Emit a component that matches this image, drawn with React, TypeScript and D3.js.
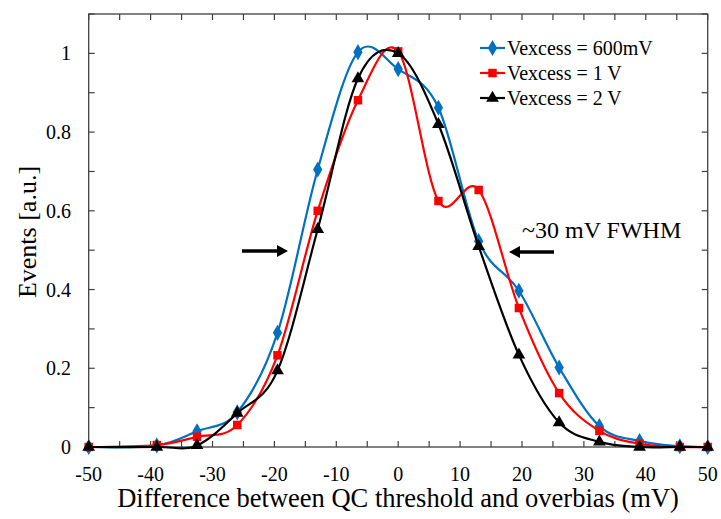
import React from "react";
import * as d3 from "d3";

const xValues = [-50, -39, -32.5, -26, -19.5, -13, -6.5, 0, 6.5, 13, 19.5, 26, 32.5, 39, 45.5, 50];
const blueValues = [0, 0.004, 0.04, 0.088, 0.29, 0.705, 1.003, 0.96, 0.862, 0.523, 0.397, 0.202, 0.053, 0.015, 0.002, 0];
const redValues = [0, 0.005, 0.026, 0.056, 0.233, 0.6, 0.881, 1.005, 0.625, 0.653, 0.353, 0.137, 0.041, 0.008, 0, 0];
const blackValues = [0, 0, 0.004, 0.086, 0.194, 0.553, 0.936, 1.0, 0.82, 0.51, 0.234, 0.062, 0.013, 0, 0, 0];

const seriesNames = ["Vexcess = 600mV", "Vexcess = 1 V", "Vexcess = 2 V"];
const xTickLabels = [-50, -40, -30, -20, -10, 0, 10, 20, 30, 40, 50];
const yTickLabels = [0, 0.2, 0.4, 0.6, 0.8, 1];

const W = 721;
const H = 519;
const FONT = "Liberation Serif, DejaVu Serif, serif";

export default function App() {
  const x = d3.scaleLinear().domain([-50, 50]).range([88.7, 707.7]);
  const y = d3.scaleLinear().domain([0, 1.1]).range([447, 14]);

  const series = [
    { name: seriesNames[0], values: blueValues, color: "#0070C0", marker: "diamond" },
    { name: seriesNames[1], values: redValues, color: "#FF0000", marker: "square" },
    { name: seriesNames[2], values: blackValues, color: "#000000", marker: "triangle" },
  ];

  const line = d3
    .line<number>()
    .x((_, i) => x(xValues[i]))
    .y((d) => y(d))
    .curve(d3.curveCardinal.tension(0));

  const markerPath = (type: string) => {
    if (type === "diamond") return d3.symbol(d3.symbolDiamond, 75)()!;
    if (type === "square") return d3.symbol(d3.symbolSquare, 72)()!;
    return d3.symbol(d3.symbolTriangle, 70)()!;
  };

  const minorX = d3.range(-50, 50.001, 5);
  const minorY = d3.range(0, 1.1001, 0.1);
  const x0 = x(-50), x1 = x(50), y0 = y(0), y1 = y(1.1);
  const tick = 6;
  const frameColor = "#404040";

  const legendX = 480;
  const legendY = [48, 73, 98];

  const tStyle = { fontFamily: FONT };

  const arrow = (xa: number, xb: number, yy: number) => {
    const dir = Math.sign(xb - xa);
    const headLen = 11;
    const headHalf = 6;
    const shaftEnd = xb - dir * headLen;
    return (
      <g>
        <line x1={xa} y1={yy} x2={shaftEnd} y2={yy} stroke="#000" strokeWidth={3.5} />
        <path d={`M${xb},${yy} L${shaftEnd},${yy - headHalf} L${shaftEnd},${yy + headHalf} Z`} fill="#000" />
      </g>
    );
  };

  return (
    <svg width={W} height={H} style={{ position: "absolute", left: 0, top: 0, background: "#fff" }}>
      <rect x={0} y={0} width={W} height={H} fill="#fff" />
      <rect x={x0} y={y1} width={x1 - x0} height={y0 - y1} fill="none" stroke={frameColor} strokeWidth={1.3} />
      {minorX.map((v) => (
        <g key={"xt" + v}>
          <line x1={x(v)} x2={x(v)} y1={y0} y2={y0 - tick} stroke={frameColor} strokeWidth={1.2} />
          <line x1={x(v)} x2={x(v)} y1={y1} y2={y1 + tick} stroke={frameColor} strokeWidth={1.2} />
        </g>
      ))}
      {minorY.map((v) => (
        <g key={"yt" + v.toFixed(1)}>
          <line x1={x0} x2={x0 + tick} y1={y(v)} y2={y(v)} stroke={frameColor} strokeWidth={1.2} />
          <line x1={x1} x2={x1 - tick} y1={y(v)} y2={y(v)} stroke={frameColor} strokeWidth={1.2} />
        </g>
      ))}
      {xTickLabels.map((v) => (
        <text key={"xl" + v} x={x(v)} y={481} textAnchor="middle" fontSize={20} fill="#000" style={tStyle}>
          {v}
        </text>
      ))}
      {yTickLabels.map((v) => (
        <text key={"yl" + v} x={71} y={y(v) + 7} textAnchor="end" fontSize={20} fill="#000" style={tStyle}>
          {String(v)}
        </text>
      ))}
      <text x={398} y={507} textAnchor="middle" fontSize={26.5} fill="#000" style={tStyle}>
        Difference between QC threshold and overbias (mV)
      </text>
      <text transform={`translate(36,232) rotate(-90)`} textAnchor="middle" fontSize={26} fill="#000" style={tStyle}>
        Events [a.u.]
      </text>
      {series.map((s) => (
        <g key={s.name}>
          <path d={line(s.values)!} fill="none" stroke={s.color} strokeWidth={2.2} />
          {s.values.map((v, i) => (
            <path key={i} d={markerPath(s.marker)} transform={`translate(${x(xValues[i])},${y(v)})`} fill={s.color} />
          ))}
        </g>
      ))}
      {arrow(242, 288, 251)}
      {arrow(554, 509, 252)}
      <text x={522} y={238} fontSize={24} fill="#000" style={tStyle}>~30 mV FWHM</text>
      {series.map((s, i) => (
        <g key={"lg" + i}>
          <line x1={legendX} x2={legendX + 25} y1={legendY[i]} y2={legendY[i]} stroke={s.color} strokeWidth={2.2} />
          <path d={markerPath(s.marker)} transform={`translate(${legendX + 12.5},${legendY[i]})`} fill={s.color} />
          <text x={legendX + 27} y={legendY[i] + 6.5} fontSize={20} fill="#000" style={tStyle}>
            {s.name}
          </text>
        </g>
      ))}
    </svg>
  );
}
